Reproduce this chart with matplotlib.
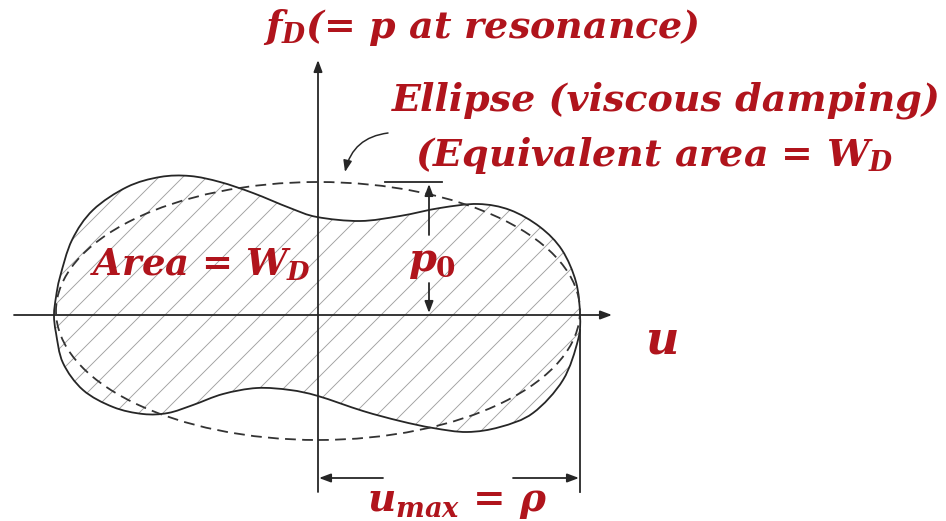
import numpy as np
import matplotlib
matplotlib.use("Agg")
import matplotlib.pyplot as plt
from matplotlib.path import Path
from matplotlib.patches import PathPatch, Ellipse

# hysteresis loop outline, displacement u vs damping force f_D
loop_u = [-264, -262, -258, -246, -225, -191, -158, -128, -98, -65, -28, -1, 42, 82, 122,
          160, 192, 222, 244, 258, 262, 260, 245, 215, 182, 149, 115, 82, 45, 0,
          -28, -61, -95, -125, -150, -175, -205, -235, -255, -262]
loop_f = [0, 18, 38, 75, 105, 128, 138, 139, 133, 122, 107, 98, 94, 99, 107,
          111, 105, 88, 65, 33, 0, -25, -65, -98, -112, -117, -113, -106, -96, -81,
          -75, -73, -79, -90, -98, -99, -92, -75, -48, -18]

# equivalent viscous ellipse
ell_center = (0, 4)
ell_umax = 262
ell_p0 = 129

RED = "#b0141c"
INK = "#262626"

plt.rcParams["mathtext.fontset"] = "custom"
plt.rcParams["mathtext.it"] = "DejaVu Serif:italic:bold"
plt.rcParams["mathtext.rm"] = "DejaVu Serif:bold"
plt.rcParams["mathtext.bf"] = "DejaVu Serif:bold"
plt.rcParams["hatch.linewidth"] = 0.9


def closed_curve(u, f):
    # smooth closed outline through the points (Catmull-Rom as cubic Beziers)
    pts = np.column_stack([u, f]).astype(float)
    n = len(pts)
    verts = [pts[0]]
    codes = [Path.MOVETO]
    for i in range(n):
        p0, p1, p2, p3 = pts[i - 1], pts[i], pts[(i + 1) % n], pts[(i + 2) % n]
        verts += [p1 + (p2 - p0) / 6, p2 - (p3 - p1) / 6, p2]
        codes += [Path.CURVE4] * 3
    verts.append(pts[0])
    codes.append(Path.CLOSEPOLY)
    return Path(verts, codes)


def arrow(ax, tail, head, **kw):
    props = dict(arrowstyle="-|>,head_length=0.8,head_width=0.3", color=INK,
                 lw=1.8, shrinkA=0, shrinkB=0, mutation_scale=12)
    props.update(kw)
    ax.annotate("", xy=head, xytext=tail, arrowprops=props)


fig = plt.figure(figsize=(946 / 72, 521 / 72), dpi=72)
ax = fig.add_axes([0, 0, 1, 1])
ax.set_xlim(-318, 628)
ax.set_ylim(-206, 315)
ax.axis("off")

loop = closed_curve(loop_u, loop_f)
ax.add_patch(PathPatch(loop, facecolor="none", edgecolor="#a0a0a0", lw=0, hatch="/"))
ax.add_patch(PathPatch(loop, facecolor="none", edgecolor=INK, lw=1.8))
ax.add_patch(Ellipse(ell_center, 2 * ell_umax, 2 * ell_p0, fill=False, edgecolor="#333333",
                     lw=1.8, ls=(0, (6, 3.5))))

# axes
arrow(ax, (-304, 0), (294, 0))
arrow(ax, (0, -177), (0, 255))

# p0 dimension
ax.plot([67, 124], [ell_center[1] + ell_p0] * 2, color=INK, lw=1.8)
arrow(ax, (111, 80), (111, ell_center[1] + ell_p0 - 2))
arrow(ax, (111, 32), (111, 2))

# u_max dimension
ax.plot([ell_umax, ell_umax], [-15, -177], color=INK, lw=1.8)
arrow(ax, (65, -163), (1, -163))
arrow(ax, (195, -163), (ell_umax - 1, -163))

# pointer to the ellipse
arrow(ax, (70, 182), (27, 143), lw=1.5, connectionstyle="arc3,rad=0.35")

txt = dict(color=RED, family="DejaVu Serif", style="italic", weight="bold",
           ha="center", va="center")
ax.text(163, 287, r"$f_D$(= $p$ at resonance)", fontsize=38, **txt)
ax.text(348, 215, "Ellipse (viscous damping)", fontsize=38, **txt)
ax.text(336, 160, r"(Equivalent area = $W_D$", fontsize=38, **txt)
ax.text(-117, 50, r"Area = $W_D$", fontsize=37, **txt)
ax.text(114, 53, r"$p_0$", fontsize=40, **txt)
ax.text(343, -26, r"$u$", fontsize=46, **txt)
ax.text(139, -187, r"$u_{max}$ = $\rho$", fontsize=39, **txt)

fig.savefig("out.png", dpi=72)
